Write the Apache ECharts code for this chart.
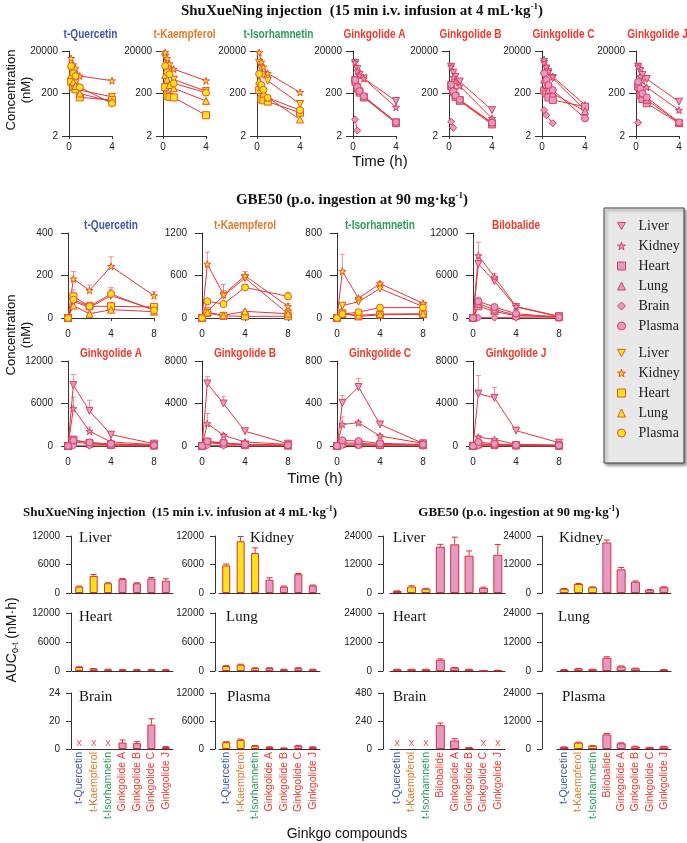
<!DOCTYPE html>
<html><head><meta charset="utf-8">
<script src="https://cdn.jsdelivr.net/npm/echarts@6/dist/echarts.min.js"></script>
<style>html,body{margin:0;padding:0;background:#fff}#c{width:687px;height:843px}</style>
</head><body><div id="c"></div><script>
// ---------- categories / ticks ----------
const tissues = ['Liver','Kidney','Heart','Lung','Brain','Plasma'];
const ivTimes = [0.2, 0.4, 0.6, 1, 4];
const poTimes = [0, 0.5, 2, 4, 8];
const ivCompounds = ['t-Quercetin','t-Kaempferol','t-Isorhamnetin','Ginkgolide A','Ginkgolide B','Ginkgolide C','Ginkgolide J'];
const poCompounds = ['t-Quercetin','t-Kaempferol','t-Isorhamnetin','Bilobalide','Ginkgolide A','Ginkgolide B','Ginkgolide C','Ginkgolide J'];
const ivTickLabels = ['2','200','20000'];
const sxnBrainTicks = ['0','20','24'];
const poMax = [400, 1200, 800, 12000, 12000, 8000, 800, 8000];
const sxnMax = [12000, 12000, 12000, 12000, 40, 12000];
const gbeMax = [24000, 24000, 24000, 24000, 480, 24000];

// ---------- i.v. concentrations (nM), rows: Liver, Kidney, Heart, Lung, Brain, Plasma ----------
const ivQuercetin = [
  [2500, 900, 600, 290, 140],
  [9000, 4500, 3000, 1330, 800],
  [720, 400, 314, 132, 98],
  [1500, 700, 450, 200, 83],
  null,
  [3900, 1800, 1330, 390, 69]];
const ivKaempferol = [
  [10000, 4000, 2200, 900, 260],
  [17000, 9000, 5000, 2800, 800],
  [400, 160, 140, 130, 19],
  [1500, 900, 500, 350, 90],
  null,
  [4000, 2000, 1600, 600, 220]];
const ivIsorhamnetin = [
  [5600, 3000, 1500, 800, 64],
  [17000, 6000, 3500, 1780, 225],
  [290, 107, 95, 83, 25],
  [800, 400, 200, 130, 12],
  null,
  [1660, 500, 300, 126, 33]];
const ivGinkgolideA = [
  [5500, 2800, 1500, 1030, 89],
  [5900, 2300, 1400, 1000, 45],
  [860, 390, 250, 140, 8.8],
  [700, 350, 220, 130, 8],
  [12, 3.6, null, null, null],
  [860, 400, 260, 150, 9]];
const ivGinkgolideB = [
  [3650, 1900, 1200, 730, 33],
  [3650, 1150, 700, 450, 13.5],
  [500, 245, 150, 98, 8],
  [450, 230, 140, 90, 7],
  [9.4, 4.9, null, null, null],
  [520, 250, 160, 100, 8.5]];
const ivGinkgolideC = [
  [5000, 3000, 2000, 1050, 33],
  [8000, 3650, 2200, 1240, 58],
  [270, 200, 130, 98, 48],
  [900, 500, 300, 200, 30],
  [33, 19, null, 8, null],
  [1800, 860, 500, 290, 13.5]];
const ivGinkgolideJ = [
  [3650, 2300, 1500, 960, 83],
  [3650, 1240, 800, 390, 33],
  [420, 170, 110, 69, 8],
  [600, 300, 200, 100, 8.5],
  [8.5, null, null, null, null],
  [720, 340, 200, 130, 8.8]];

// ---------- p.o. concentrations (nM) and upper SD ----------
const poQuercetin = [[0,78,50,105,40],[0,184,130,243,105],[0,102,55,55,52],[0,58,20,39,30],null,[0,86,55,113,36]];
const poQuercetinErr = [[0,25,15,30,10],[0,35,25,45,20],[0,30,10,20,8],[0,15,8,10,8],null,[0,25,20,30,10]];
const poKaempferol = [[0,94,315,564,61],[0,760,330,597,165],[0,70,30,24,24],[0,80,38,94,60],null,[0,235,197,432,305]];
const poKaempferolErr = [[0,30,160,40,20],[0,170,60,60,40],[0,20,10,10,10],[0,20,10,20,10],null,[0,40,40,40,60]];
const poIsorhamnetin = [[0,116,153,277,107],[0,440,185,323,139],[0,45,15,30,35],[0,40,25,37,40],null,[0,37,55,98,98]];
const poIsorhamnetinErr = [[0,15,40,20,10],[0,160,20,20,10],[0,10,8,8,8],[0,10,8,8,8],null,[0,10,8,8,8]];
const poBilobalide = [[0,7620,5180,1550,200],[0,8800,5790,1650,235],[0,1650,940,300,250],[0,2000,1200,400,100],[0,50,50,40,0],[0,2350,1550,610,100]];
const poBilobalideErr = [[0,400,300,150,50],[0,1900,500,200,50],[0,300,200,100,50],[0,400,200,100,30],[0,20,20,10,0],[0,600,300,100,30]];
const poGinkgolideA = [[0,8590,4960,1600,330],[0,5290,2080,570,200],[0,900,400,200,100],[0,600,300,150,80],[0,50,30,20,0],[0,800,500,300,100]];
const poGinkgolideAErr = [[0,1500,1500,300,100],[0,1600,600,200,50],[0,300,100,50,20],[0,200,100,50,20],[0,10,10,5,0],[0,300,150,80,30]];
const poGinkgolideB = [[0,5890,4000,1390,220],[0,2110,1010,380,150],[0,400,250,120,60],[0,300,200,100,50],[0,50,30,10,0],[0,440,300,150,80]];
const poGinkgolideBErr = [[0,630,630,150,50],[0,950,150,80,30],[0,100,50,30,20],[0,80,50,30,20],[0,10,10,5,0],[0,100,60,30,20]];
const poGinkgolideC = [[0,406,556,203,25],[0,203,219,94,25],[0,30,25,15,10],[0,20,15,10,8],[0,5,3,2,1],[0,53,47,25,15]];
const poGinkgolideCErr = [[0,70,80,20,5],[0,70,20,15,5],[0,10,5,5,3],[0,5,5,3,2],[0,2,1,1,0],[0,15,10,5,3]];
const poGinkgolideJ = [[0,4930,4530,1450,310],[0,830,620,150,100],[0,200,150,80,40],[0,150,100,50,30],[0,30,20,10,0],[0,370,200,100,50]];
const poGinkgolideJErr = [[0,1700,990,100,80],[0,150,100,30,20],[0,50,40,20,10],[0,40,30,20,10],[0,10,5,5,0],[0,100,60,30,20]];

// ---------- AUC0-t (nM·h) ----------
const aucSxnLiver = [1360, 3600, 2050, 2930, 2050, 3070, 2600];
const aucSxnLiverErr = [100, 300, 100, 100, 100, 200, 400];
const aucSxnKidney = [5800, 10900, 8400, 2800, 1360, 3960, 1570];
const aucSxnKidneyErr = [300, 1000, 1100, 400, 100, 150, 100];
const aucSxnHeart = [830, 480, 350, 300, 300, 300, 300];
const aucSxnHeartErr = [60, 40, 30, 30, 30, 30, 30];
const aucSxnLung = [1030, 1310, 620, 620, 350, 620, 350];
const aucSxnLungErr = [80, 100, 50, 50, 30, 50, 30];
const aucSxnBrain = [null, null, null, 4.65, 4.2, 17.4, 1.4];
const aucSxnBrainErr = [0, 0, 0, 1.8, 1.1, 4.2, 0.3];
const aucSxnPlasma = [1470, 1950, 700, 420, 210, 700, 420];
const aucSxnPlasmaErr = [100, 150, 50, 50, 30, 80, 50];
const aucGbeLiver = [820, 2730, 1770, 19500, 20500, 15700, 2180, 16100];
const aucGbeLiverErr = [100, 300, 200, 1000, 3000, 2000, 300, 4300];
const aucGbeKidney = [1770, 3800, 2450, 21300, 9960, 4770, 1360, 2450];
const aucGbeKidneyErr = [100, 200, 150, 1000, 800, 300, 100, 150];
const aucGbeHeart = [700, 700, 700, 4700, 1380, 700, 140, 280];
const aucGbeHeartErr = [50, 50, 50, 300, 100, 50, 20, 30];
const aucGbeLung = [550, 970, 700, 5500, 1930, 1100, null, 550];
const aucGbeLungErr = [50, 80, 50, 400, 150, 80, 0, 50];
const aucGbeBrain = [null, null, null, 204, 73, 11, null, null];
const aucGbeBrainErr = [0, 0, 0, 19, 16, 2, 0, 0];
const aucGbePlasma = [820, 2720, 1360, 6260, 2450, 1090, 680, 1090];
const aucGbePlasmaErr = [80, 200, 100, 400, 200, 100, 50, 80];

// ---------- styles ----------
const SANS = "'Liberation Sans', Arial, sans-serif";
const SERIF = "'Liberation Serif', 'Times New Roman', serif";
const AX = '#333';
const RED = '#e2363c';
const PINK = '#e49ac2', PINK_EDGE = '#d8435f';
const YEL = '#ffe31a', YEL_EDGE = '#e8552a';
const ERRC = '#f08a96';
const BAR_EDGE = '#d8303a';
const CMP_COLOR = {'t-Quercetin':'#3f55a6','t-Kaempferol':'#e07a2c','t-Isorhamnetin':'#2f9b5b'};
const cmpColor = c => CMP_COLOR[c] || '#ee3a2e';
const isFlav = c => c.startsWith('t-');
const STAR = 'path://M5,0L6.2,3.6L10,3.6L6.9,5.9L8.1,9.5L5,7.3L1.9,9.5L3.1,5.9L0,3.6L3.8,3.6Z';
const SYM = {Liver:'path://M0,0L10,0L5,9Z', Kidney:STAR, Heart:'rect', Lung:'triangle', Brain:'diamond', Plasma:'circle'};
const plain = v => String(v);

const grids = [], xAxes = [], yAxes = [], series = [], graphics = [];
function addGrid(rect, xa, ya) {
  const i = grids.length;
  grids.push(Object.assign({containLabel:false, outerBoundsMode:'none'}, rect));
  xAxes.push(Object.assign({gridIndex:i}, xa));
  yAxes.push(Object.assign({gridIndex:i}, ya));
  return i;
}
function valAxis(min, max, interval, fmt, tick, margin, extra) {
  return Object.assign({type:'value', min, max, interval, splitLine:{show:false},
    axisLine:{show:true, lineStyle:{color:AX, width:1}},
    axisTick:{show:true, length:tick, lineStyle:{color:AX}},
    axisLabel:{show:true, fontSize:10, color:'#222', fontFamily:SANS, margin:margin, formatter:fmt || plain}}, extra || {});
}
function txt(x, y, text, st, rotation, scaleX) {
  graphics.push({type:'text', silent:true, x, y, rotation: rotation || 0, scaleX: scaleX || 1, z:10,
    style: Object.assign({text, textAlign:'center', align:'center', textVerticalAlign:'middle', verticalAlign:'middle',
      fill:'#111', fontFamily:SANS, fontSize:14}, st)});
}
function lineSeries(kind, t, gi, data, size) {
  return {type:'line', name: kind + '-' + tissues[t], xAxisIndex:gi, yAxisIndex:gi, data,
    symbol: SYM[tissues[t]], symbolSize: size, showSymbol:true, showAllSymbol:true,
    itemStyle:{color: kind === 'F' ? YEL : PINK, borderColor: kind === 'F' ? YEL_EDGE : PINK_EDGE, borderWidth:1},
    lineStyle:{color:RED, width:1}, emphasis:{disabled:true}, z:3, animation:false, clip:false};
}
function errSeries(gi, data, color, cap) {
  return {type:'custom', xAxisIndex:gi, yAxisIndex:gi, data, z:2, animation:false, silent:true,
    encode:{x:0, y:1}, clip:false,
    renderItem(params, api) {
      const x = api.value(0), y = api.value(1), e = api.value(2);
      const p0 = api.coord([x, y]), p1 = api.coord([x, y + e]);
      const s = {stroke:color, lineWidth:1};
      return {type:'group', children:[
        {type:'line', shape:{x1:p0[0], y1:p0[1], x2:p1[0], y2:p1[1]}, style:s},
        {type:'line', shape:{x1:p1[0]-cap, y1:p1[1], x2:p1[0]+cap, y2:p1[1]}, style:s}]};
    }};
}
function panelTitle(x, y, c) {
  txt(x, y, c, {fill: cmpColor(c), fontFamily: SANS, fontWeight:'bold', fontSize:12}, 0, 0.84);
}

// ---------- Top: i.v. (log scale) ----------
const ivData = [ivQuercetin, ivKaempferol, ivIsorhamnetin, ivGinkgolideA, ivGinkgolideB, ivGinkgolideC, ivGinkgolideJ];
const ivLefts = [69, 163, 257, 353, 449, 542, 636];
ivData.forEach((panel, p) => {
  const L = ivLefts[p];
  const gi = addGrid({left:L, top:51, width:43, height:85},
    valAxis(0, 4, 4, null, 3, 6),
    valAxis(0, 4, 2, v => ivTickLabels[Math.round(v / 2)], 7, 11));
  panelTitle(L + 21.5, 35, ivCompounds[p]);
  const kind = isFlav(ivCompounds[p]) ? 'F' : 'G';
  panel.forEach((row, t) => {
    if (!row) return;
    const d = ivTimes.map((x, j) => [x, row[j]]).filter(q => q[1] != null).map(q => [q[0], Math.log10(q[1] / 2)]);
    series.push(lineSeries(kind, t, gi, d, 7));
  });
});

// ---------- Middle: p.o. (linear) ----------
const poData = [poQuercetin, poKaempferol, poIsorhamnetin, poBilobalide, poGinkgolideA, poGinkgolideB, poGinkgolideC, poGinkgolideJ];
const poErr = [poQuercetinErr, poKaempferolErr, poIsorhamnetinErr, poBilobalideErr, poGinkgolideAErr, poGinkgolideBErr, poGinkgolideCErr, poGinkgolideJErr];
const poLefts = [68, 202, 337, 473], poTops = [233, 361];
poData.forEach((panel, p) => {
  const L = poLefts[p % 4], T = poTops[Math.floor(p / 4)], mx = poMax[p];
  const gi = addGrid({left:L, top:T, width:86, height:85},
    valAxis(0, 8, 4, null, 3, 11),
    valAxis(0, mx, mx / 2, null, 7, 15));
  panelTitle(L + 43, T - 7, poCompounds[p]);
  const kind = isFlav(poCompounds[p]) ? 'F' : 'G';
  panel.forEach((row, t) => {
    if (!row) return;
    const er = poErr[p][t];
    const ed = poTimes.map((x, j) => [x, row[j], er[j]]).filter(q => q[2] > 0);
    series.push(errSeries(gi, ed, ERRC, 2.5));
    series.push(lineSeries(kind, t, gi, poTimes.map((x, j) => [x, row[j]]), 7));
  });
});

// ---------- Bottom: AUC bars ----------
const aucCols = [{left:72, width:101, off:1}, {left:219, width:101, off:4}, {left:390, width:115, off:7}, {left:557, width:114, off:15}];
const aucRows = [{top:536, height:57}, {top:613, height:58}, {top:693, height:56}];
const aucPanels = [
  {blk:0, t:0, v:aucSxnLiver, e:aucSxnLiverErr}, {blk:0, t:1, v:aucSxnKidney, e:aucSxnKidneyErr},
  {blk:0, t:2, v:aucSxnHeart, e:aucSxnHeartErr}, {blk:0, t:3, v:aucSxnLung, e:aucSxnLungErr},
  {blk:0, t:4, v:aucSxnBrain, e:aucSxnBrainErr}, {blk:0, t:5, v:aucSxnPlasma, e:aucSxnPlasmaErr},
  {blk:1, t:0, v:aucGbeLiver, e:aucGbeLiverErr}, {blk:1, t:1, v:aucGbeKidney, e:aucGbeKidneyErr},
  {blk:1, t:2, v:aucGbeHeart, e:aucGbeHeartErr}, {blk:1, t:3, v:aucGbeLung, e:aucGbeLungErr},
  {blk:1, t:4, v:aucGbeBrain, e:aucGbeBrainErr}, {blk:1, t:5, v:aucGbePlasma, e:aucGbePlasmaErr}];
const labelX = [[79, 250, 79, 226, 79, 227], [393, 559, 393, 558, 393, 562]];
const labelY = [538, 538, 617, 617, 697, 697];
aucPanels.forEach(pn => {
  const col = aucCols[pn.blk * 2 + (pn.t % 2)];
  const row = Math.floor(pn.t / 2);
  const R = aucRows[row];
  const cats = pn.blk === 0 ? ivCompounds : poCompounds;
  const mx = (pn.blk === 0 ? sxnMax : gbeMax)[pn.t];
  const fmt = (pn.blk === 0 && pn.t === 4) ? (v => sxnBrainTicks[Math.round(v / 20)]) : null;
  const gi = addGrid({left:col.left, top:R.top, width:col.width, height:R.height},
    {type:'category', data: cats.map(c => ({value:c, textStyle:{color: cmpColor(c)}})),
      axisLine:{show:true, lineStyle:{color:AX}}, axisTick:{show:false},
      axisLabel:{show: row === 2, rotate:90, interval:0, fontSize:10.5, fontFamily:SANS, margin:3}},
    valAxis(0, mx, mx / 2, fmt, 5, 11, {offset: col.off}));
  const bw = pn.blk === 0 ? 8 : 9;
  series.push({type:'bar', xAxisIndex:gi, yAxisIndex:gi, barWidth:bw, animation:false, silent:true, z:3,
    data: pn.v.map((v, i) => v == null ? null : {value:v, itemStyle:{color: isFlav(cats[i]) ? YEL : PINK}}),
    itemStyle:{borderColor:BAR_EDGE, borderWidth:1}});
  series.push(errSeries(gi, pn.v.map((v, i) => (v != null && pn.e[i] > 0) ? [i, v, pn.e[i]] : null).filter(Boolean), BAR_EDGE, 3));
  const miss = pn.v.map((v, i) => v == null && pn.t === 4 ? [i, 0] : null).filter(Boolean);
  if (miss.length) series.push({type:'scatter', xAxisIndex:gi, yAxisIndex:gi, data:miss, symbol:'circle', symbolSize:1,
    itemStyle:{color:'transparent'}, animation:false, silent:true, z:4,
    label:{show:true, formatter:'x', position:'top', distance:0, color:'#e8303a', fontSize:11, fontFamily:SANS}});
  txt(labelX[pn.blk][pn.t], labelY[pn.t], tissues[pn.t], {textAlign:'left', align:'left', fontFamily:SERIF, fontSize:15, fill:'#111'});
});

// ---------- titles / axis names ----------
function supTitle(x, y, main, sz) {
  txt(x, y, '{b|' + main + '}{s|-1}{b|)}', {rich:{
    b:{fontFamily:SERIF, fontWeight:'bold', fontSize:sz, fill:'#111', lineHeight:sz + 3},
    s:{fontFamily:SERIF, fontWeight:'bold', fontSize:Math.round(sz * 0.62), fill:'#111', verticalAlign:'top'}}});
}
supTitle(362, 11, 'ShuXueNing injection  (15 min i.v. infusion at 4 mL·kg', 15);
supTitle(352, 200, 'GBE50 (p.o. ingestion at 90 mg·kg', 15);
supTitle(180, 513, 'ShuXueNing injection  (15 min i.v. infusion at 4 mL·kg', 13);
supTitle(519, 513, 'GBE50 (p.o. ingestion at 90 mg·kg', 13);
txt(19, 90, 'Concentration\n(nM)', {fontSize:13, lineHeight:15}, Math.PI / 2);
txt(19, 335, 'Concentration\n(nM)', {fontSize:13, lineHeight:15}, Math.PI / 2);
txt(380, 162, 'Time (h)', {fontSize:15});
txt(315, 479, 'Time (h)', {fontSize:15});
txt(347, 834, 'Ginkgo compounds', {fontSize:14});
txt(12, 640, '{a|AUC}{b|0-t}{a| (nM·h)}', {rich:{
  a:{fontFamily:SANS, fontSize:14, fill:'#111', lineHeight:17},
  b:{fontFamily:SANS, fontSize:9, fill:'#111', verticalAlign:'bottom'}}}, Math.PI / 2);

// legend box
graphics.unshift({type:'rect', silent:true, z:0, shape:{x:604, y:208, width:80, height:255},
  style:{fill:'#e8e8e8', stroke:'#444', lineWidth:1, shadowBlur:3, shadowOffsetX:2, shadowOffsetY:2, shadowColor:'rgba(0,0,0,0.45)'}});
const legendCommon = {orient:'vertical', left:612, itemWidth:8, itemHeight:8, itemGap:6, selectedMode:false, z:5,
  formatter: n => n.slice(2), textStyle:{fontFamily:SERIF, fontSize:14, color:'#222', padding:[0, 0, 0, 8]}};
const legends = [
  Object.assign({top:214, data: tissues.map(t => ({name:'G-' + t, icon:SYM[t], itemStyle:{color:PINK, borderColor:PINK_EDGE, borderWidth:1}}))}, legendCommon),
  Object.assign({top:341, data: tissues.map(t => ({name:'F-' + t, icon:SYM[t], itemStyle:{color:YEL, borderColor:YEL_EDGE, borderWidth:1}}))}, legendCommon)];

const chart = echarts.init(document.getElementById('c'), null, {renderer:'canvas'});
chart.setOption({
  animation:false, backgroundColor:'#fff', textStyle:{fontFamily:SANS},
  grid:grids, xAxis:xAxes, yAxis:yAxes, series, legend:legends, graphic:{elements:graphics}
});
</script></body></html>
